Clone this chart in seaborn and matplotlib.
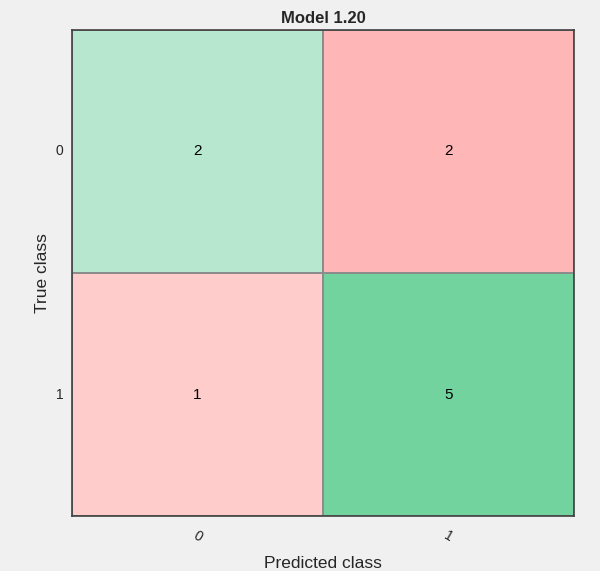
import numpy as np
import pandas as pd
import matplotlib.pyplot as plt
import seaborn as sns
from matplotlib.colors import LinearSegmentedColormap

# confusion matrix values
classes = ['0', '1']
counts = [[2, 2],
          [1, 5]]
title = 'Model 1.20'

cm = pd.DataFrame(counts, index=classes, columns=classes)
diag = np.eye(len(classes), dtype=bool)

sns.set_style("white")
plt.rcParams['font.family'] = ['Liberation Sans', 'DejaVu Sans']

fig = plt.figure(figsize=(6, 5.71), dpi=100, facecolor='#f0f0f0')
ax = fig.add_axes([0.12, 0.0963, 0.837, 0.8512])

greens = LinearSegmentedColormap.from_list('g', ['#b8e7d0', '#72d39e'])
reds = LinearSegmentedColormap.from_list('r', ['#ffcccc', '#ffb6b6'])

sns.heatmap(cm, mask=~diag, cmap=greens, vmin=2, vmax=5, cbar=False,
            annot=True, fmt='d', annot_kws={'fontsize': 11, 'color': 'black'},
            linewidths=1.2, linecolor='#8c8c8c', ax=ax)
sns.heatmap(cm, mask=diag, cmap=reds, vmin=1, vmax=2, cbar=False,
            annot=True, fmt='d', annot_kws={'fontsize': 11, 'color': 'black'},
            linewidths=1.2, linecolor='#8c8c8c', ax=ax)

for s in ax.spines.values():
    s.set_visible(True)
    s.set_color('#404040')
    s.set_linewidth(1.2)

ax.set_title(title, fontsize=12, fontweight='bold', pad=5)
ax.set_xlabel('Predicted class', fontsize=12.5, color='#262626', labelpad=8)
ax.set_ylabel('True class', fontsize=12.5, color='#262626', labelpad=4)
ax.tick_params(axis='x', length=0, labelsize=10, colors='#262626', pad=9)
ax.tick_params(axis='y', length=0, labelsize=10, colors='#262626', pad=6)
plt.setp(ax.get_xticklabels(), rotation=-30, ha='center')
plt.setp(ax.get_yticklabels(), rotation=0)

fig.savefig('out.png', dpi=100, facecolor=fig.get_facecolor())
